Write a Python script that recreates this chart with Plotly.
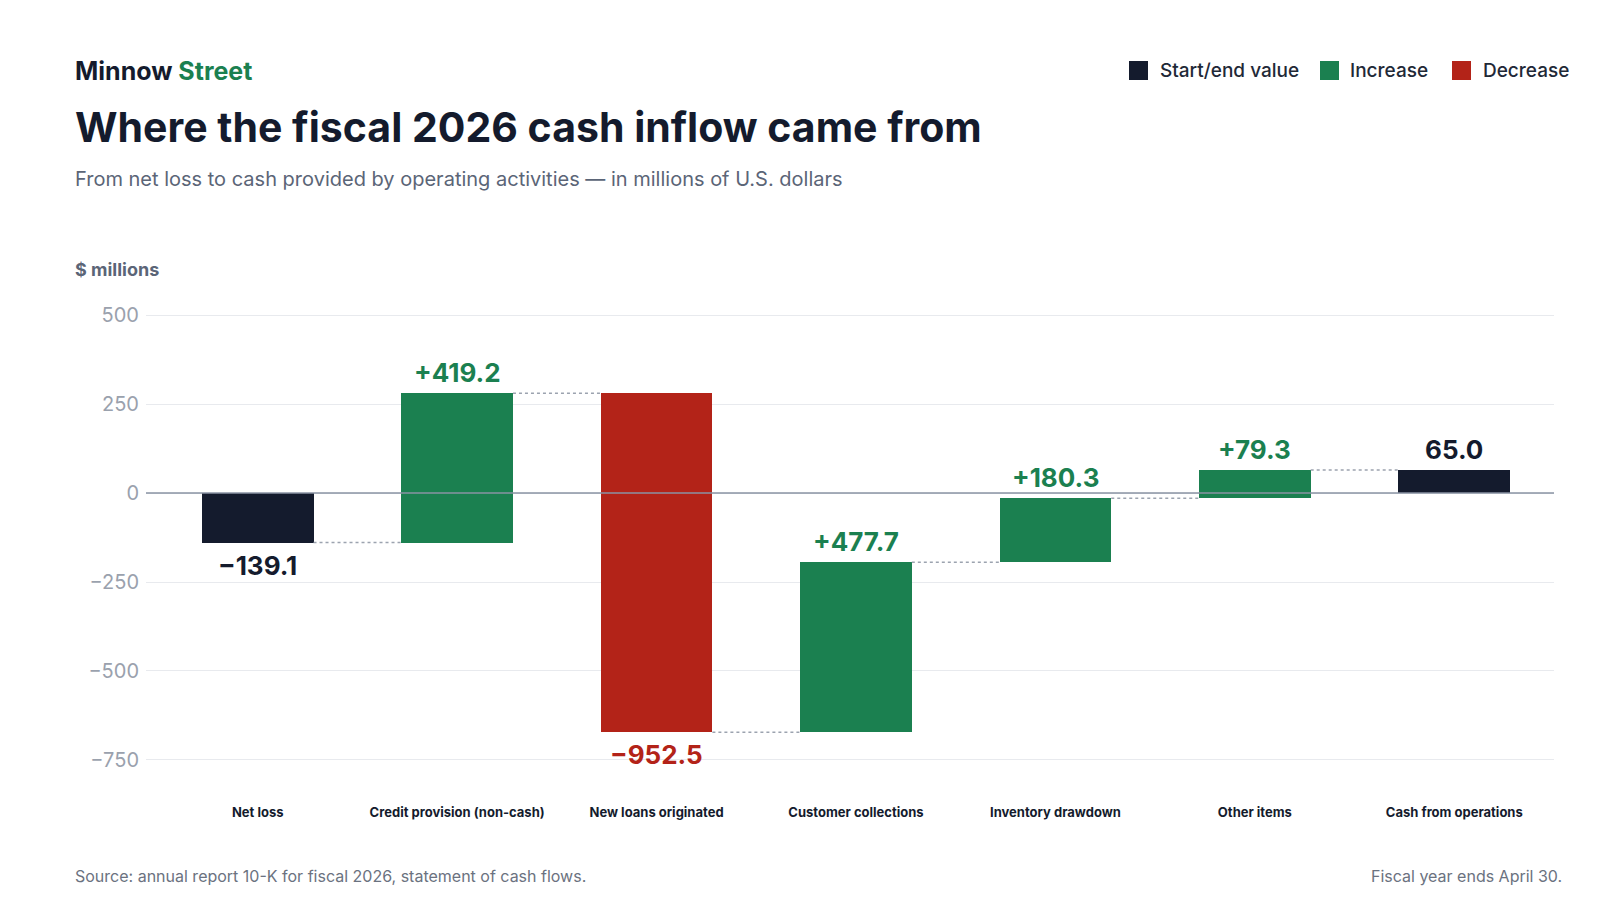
import plotly.graph_objects as go

categories = ["Net loss", "Credit provision (non-cash)", "New loans originated",
              "Customer collections", "Inventory drawdown", "Other items", "Cash from operations"]
changes = [-139.1, 419.2, -952.5, 477.7, 180.3, 79.3, 65.0]
kinds = ["total", "inc", "dec", "inc", "inc", "inc", "total"]
labels = ["−139.1", "+419.2", "−952.5", "+477.7", "+180.3", "+79.3", "65.0"]
yticks = [500, 250, 0, -250, -500, -750]
yticklabels = ["500", "250", "0", "−250", "−500", "−750"]
legend_names = ["Start/end value", "Increase", "Decrease"]
legend_kinds = ["total", "inc", "dec"]

COL = {"total": "#141b2d", "inc": "#1b8050", "dec": "#b32318"}
W, H = 1600, 900
ML, MR, MT, MB = 138, 54, 300, 105
PW, PH = W - ML - MR, H - MT - MB
def px(x): return (x - ML) / PW
def py(y): return (H - MB - y) / PH

bases, heights = [], []
run = 0
for c, k in zip(changes, kinds):
    if k == "total":
        bases.append(0); heights.append(c); run = c
    else:
        bases.append(run); heights.append(c); run += c

fig = go.Figure()
fig.add_trace(go.Bar(x=categories, y=heights, base=bases, width=0.56,
                     marker=dict(color=[COL[k] for k in kinds], line_width=0),
                     showlegend=False, hoverinfo="skip"))

for i in range(len(categories) - 1):
    level = bases[i] + heights[i]
    fig.add_shape(type="line", xref="x", yref="y", x0=i + 0.28, x1=i + 0.72, y0=level, y1=level,
                  line=dict(color="#9ca3af", width=1.5, dash="dot"))

for i, (b, h, k, t) in enumerate(zip(bases, heights, kinds, labels)):
    top, bot = max(b, b + h), min(b, b + h)
    below = h < 0
    fig.add_annotation(x=categories[i], y=bot if below else top, text=t, showarrow=False,
                       yanchor="top" if below else "bottom", yshift=-5 if below else 3,
                       font=dict(size=26, color=COL[k], family="Inter", weight="bold"))

fig.add_shape(type="line", xref="paper", yref="y", x0=0, x1=1, y0=0, y1=0,
              line=dict(color="#8a93a3", width=1.5))

def text(x, y, s, size, color, weight="normal", xanchor="left"):
    fig.add_annotation(xref="paper", yref="paper", x=px(x), y=py(y), text=s, showarrow=False,
                       xanchor=xanchor, yanchor="middle",
                       font=dict(size=size, color=color, family="Inter", weight=weight))

text(65, 63, "Minnow <span style='color:#1b8050'>Street</span>", 25, "#141b2d", "bold")
text(65, 119, "Where the fiscal 2026 cash inflow came from", 41, "#141b2d", "bold")
text(65, 171, "From net loss to cash provided by operating activities — in millions of U.S. dollars", 20, "#5b6577")
text(65, 261, "$ millions", 18, "#5b6577", "bold")
text(65, 868, "Source: annual report 10-K for fiscal 2026, statement of cash flows.", 16, "#6b7280")
text(1556, 868, "Fiscal year ends April 30.", 16, "#6b7280", xanchor="right")

# manual legend
for sq, tx, name, k in zip([1121, 1312, 1444], [1150, 1340, 1473], legend_names, legend_kinds):
    fig.add_shape(type="rect", xref="paper", yref="paper", x0=px(sq), x1=px(sq + 19),
                  y0=py(72), y1=py(53), fillcolor=COL[k], line_width=0)
    text(tx, 62, name, 19, "#1f2937", 500)

fig.update_layout(
    width=W, height=H, margin=dict(l=ML, r=MR, t=MT, b=MB),
    paper_bgcolor="white", plot_bgcolor="white", bargap=0, showlegend=False,
    font=dict(family="Inter", color="#141b2d"),
    xaxis=dict(range=[-0.56, 6.5], showgrid=False, showline=False, ticks="",
               tickfont=dict(size=13, color="#141b2d", weight="bold"), fixedrange=True),
    yaxis=dict(range=[-871, 520], tickvals=yticks, ticktext=yticklabels, showgrid=True,
               gridcolor="#e8eaee", zeroline=False, ticks="", ticklabelstandoff=6,
               tickfont=dict(size=20, color="#9aa1ad")),
)
fig.write_html("out.html")
